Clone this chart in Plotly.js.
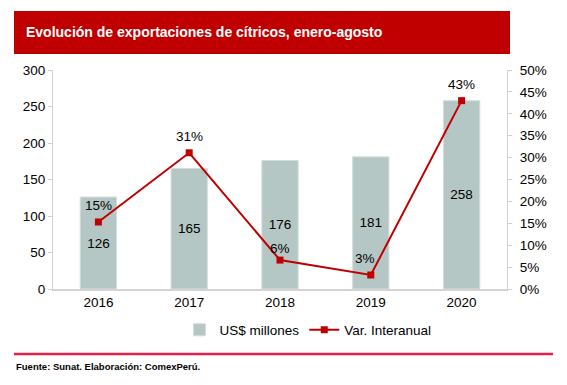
<!DOCTYPE html>
<html>
<head>
<meta charset="utf-8">
<script src="https://cdn.plot.ly/plotly-3.0.1.min.js"></script>
<style>html,body{margin:0;padding:0;background:#fff;}#chart{width:567px;height:385px;}</style>
</head>
<body>
<div id="chart"></div>
<script>
// Data
const years = ['2016', '2017', '2018', '2019', '2020'];
const exportsMillions = [126, 165, 176, 181, 258];
const yoyPct = [15.3, 31.1, 6.6, 3.2, 43.0];
const yoyLabels = ['15%', '31%', '6%', '3%', '43%'];
const barName = 'US$ millones';
const lineName = 'Var. Interanual';
const titleText = 'Evolución de exportaciones de cítricos, enero-agosto';
const sourceText = 'Fuente: Sunat. Elaboración: ComexPerú.';

// Geometry (pixels)
const W = 567, H = 385;
const M = {l: 53, r: 60, t: 70, b: 96};
const PW = W - M.l - M.r, PH = H - M.t - M.b;
const px2x = px => (px - M.l) / PW;
const py2y = py => (H - M.b - py) / PH;

const FONT = 'Liberation Sans, Arial, sans-serif';
const RED = '#c00000';

const barTrace = {
  type: 'bar',
  name: barName,
  x: years,
  y: exportsMillions,
  width: 0.4,
  marker: {color: '#b5c7c4', line: {color: '#d3dedc', width: 1}},
  text: exportsMillions.map(String),
  textposition: 'inside',
  insidetextanchor: 'middle',
  textangle: 0,
  constraintext: 'none',
  textfont: {family: FONT, size: 13.5, color: '#000'},
  hoverinfo: 'x+y'
};

const lineTrace = {
  type: 'scatter',
  mode: 'lines+markers',
  name: lineName,
  x: years,
  y: yoyPct,
  yaxis: 'y2',
  line: {color: RED, width: 2},
  marker: {symbol: 'square', size: 7, color: RED},
  hoverinfo: 'x+y'
};

const xShift = [0, 0, 0, -6, 0];
const yShift = [16, 16, 12, 16, 16];
const lineLabels = years.map((yr, i) => ({
  x: i, y: yoyPct[i], xref: 'x', yref: 'y2',
  text: yoyLabels[i], showarrow: false,
  xshift: xShift[i], yshift: yShift[i],
  font: {family: FONT, size: 13.5, color: '#000'}
}));

const layout = {
  width: W, height: H,
  margin: M,
  paper_bgcolor: '#fff',
  plot_bgcolor: '#fff',
  font: {family: FONT, size: 13.5, color: '#000'},
  showlegend: true,
  legend: {
    orientation: 'h', x: px2x(308), xanchor: 'center',
    y: py2y(330), yanchor: 'middle',
    font: {family: FONT, size: 13.5, color: '#000'},
    traceorder: 'normal'
  },
  xaxis: {
    type: 'category',
    categoryorder: 'array', categoryarray: years,
    range: [-0.5, years.length - 0.5],
    showline: true, linecolor: '#d4d4d4', linewidth: 1.5,
    ticks: '', showgrid: false, zeroline: false,
    tickfont: {family: FONT, size: 13.5, color: '#000'}
  },
  yaxis: {
    range: [0, 300], dtick: 50,
    showline: true, linecolor: '#c9d4d2', linewidth: 1,
    ticks: 'outside', ticklen: 4, tickcolor: '#c9d4d2',
    showgrid: false, zeroline: false,
    tickfont: {family: FONT, size: 13.5, color: '#000'}
  },
  yaxis2: {
    overlaying: 'y', side: 'right',
    range: [0, 50], dtick: 5, ticksuffix: '%',
    showline: true, linecolor: '#c9d4d2', linewidth: 1,
    ticks: 'outside', ticklen: 4, tickcolor: '#c9d4d2',
    ticklabelstandoff: 5,
    showgrid: false, zeroline: false,
    tickfont: {family: FONT, size: 13.5, color: '#000'}
  },
  shapes: [
    {type: 'rect', xref: 'paper', yref: 'paper',
     x0: px2x(14), x1: px2x(510), y0: py2y(54), y1: py2y(11),
     fillcolor: RED, line: {width: 0}, layer: 'below'},
    {type: 'line', xref: 'paper', yref: 'paper',
     x0: px2x(14), x1: px2x(553), y0: py2y(354), y1: py2y(354),
     line: {color: '#e3204a', width: 2.5}}
  ],
  annotations: [
    {xref: 'paper', yref: 'paper', x: px2x(24), y: py2y(32.5),
     xanchor: 'left', yanchor: 'middle', showarrow: false,
     text: '<b>' + titleText + '</b>',
     font: {family: FONT, size: 14, color: '#fff'}},
    {xref: 'paper', yref: 'paper', x: px2x(14), y: py2y(366.5),
     xanchor: 'left', yanchor: 'middle', showarrow: false,
     text: '<b>' + sourceText + '</b>',
     font: {family: FONT, size: 9.5, color: '#000'}}
  ].concat(lineLabels)
};

Plotly.newPlot('chart', [barTrace, lineTrace], layout, {displayModeBar: false, staticPlot: true});
</script>
</body>
</html>
